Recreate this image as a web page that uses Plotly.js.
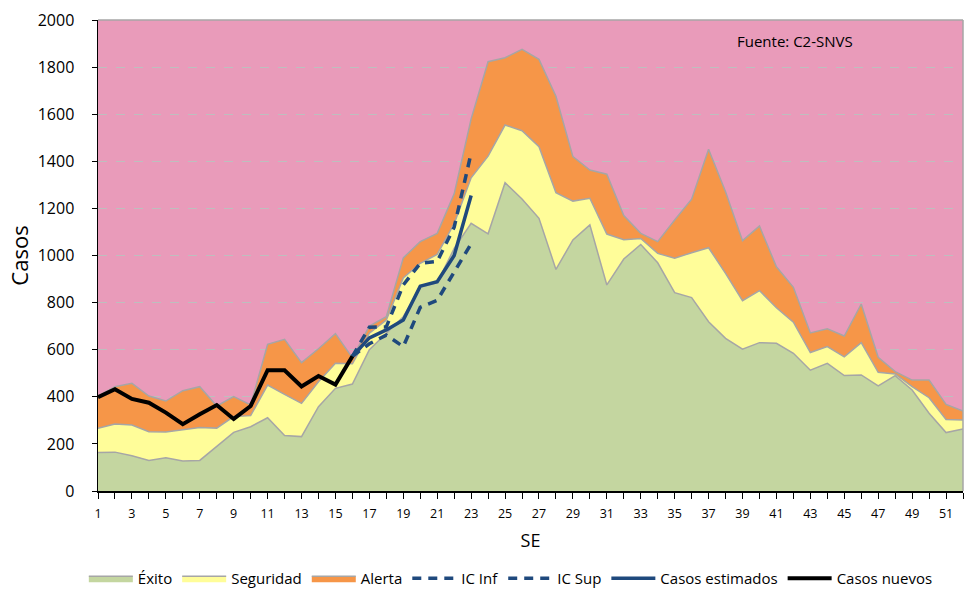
<!DOCTYPE html>
<html>
<head>
<meta charset="utf-8">
<script src="https://cdn.plot.ly/plotly-3.0.1.min.js"></script>
<style>html,body{margin:0;padding:0;background:#fff;}#chart{width:973px;height:595px;}</style>
</head>
<body>
<div id="chart"></div>
<script>
const semanas = Array.from({length: 52}, (_, i) => i + 1);

const exito = [163,165,150,130,141,127,130,188,249,273,311,236,231,358,436,454,600,670,740,865,885,1030,1137,1092,1309,1240,1158,941,1066,1130,875,985,1047,969,842,821,719,648,602,630,627,585,513,542,490,493,446,490,429,330,248,263];

const seguridad = [266,284,280,252,251,259,270,267,316,320,450,410,372,464,542,540,670,726,905,967,1005,1135,1330,1422,1554,1530,1462,1267,1231,1243,1091,1067,1072,1009,988,1012,1033,924,808,851,778,717,588,613,570,630,504,497,443,396,304,301];

const alerta = [403,443,457,403,382,426,443,361,401,365,623,644,545,604,668,565,700,740,990,1059,1094,1262,1580,1823,1840,1875,1833,1676,1420,1363,1345,1170,1094,1059,1151,1239,1451,1271,1063,1125,952,865,671,689,658,794,568,507,471,471,368,340];

const semanasNuevos = [1,2,3,4,5,6,7,8,9,10,11,12,13,14,15,16];
const casosNuevos = [398,432,391,375,333,284,326,365,306,361,513,513,444,488,452,572];

const semanasEst = [16,17,18,19,20,21,22,23];
const casosEstimados = [572,650,684,726,870,889,1000,1255];
const icInf = [572,625,662,613,780,810,930,1050];
const icSup = [572,695,697,875,967,975,1120,1435];

const xTickLabels = [1,3,5,7,9,11,13,15,17,19,21,23,25,27,29,31,33,35,37,39,41,43,45,47,49,51];
const yTickVals = [0,200,400,600,800,1000,1200,1400,1600,1800,2000];

const FONT = '"Open Sans", "DejaVu Sans", sans-serif';
const edge = {color: 'rgb(166,166,166)', width: 1.5};

const traces = [
  {x: semanas, y: exito, name: 'Éxito', type: 'scatter', mode: 'lines',
   fill: 'tozeroy', fillcolor: 'rgb(196,214,160)', line: edge},
  {x: semanas, y: seguridad, name: 'Seguridad', type: 'scatter', mode: 'lines',
   fill: 'tonexty', fillcolor: 'rgb(255,253,153)', line: edge},
  {x: semanas, y: alerta, name: 'Alerta', type: 'scatter', mode: 'lines',
   fill: 'tonexty', fillcolor: 'rgb(246,150,72)', line: edge},
  {x: semanasEst, y: icInf, name: 'IC Inf', type: 'scatter', mode: 'lines',
   line: {color: 'rgb(31,73,125)', width: 3.5, dash: '9px,7px'}},
  {x: semanasEst, y: icSup, name: 'IC Sup', type: 'scatter', mode: 'lines',
   line: {color: 'rgb(31,73,125)', width: 3.5, dash: '9px,7px'}},
  {x: semanasEst, y: casosEstimados, name: 'Casos estimados', type: 'scatter', mode: 'lines',
   line: {color: 'rgb(31,73,125)', width: 3.5}},
  {x: semanasNuevos, y: casosNuevos, name: 'Casos nuevos', type: 'scatter', mode: 'lines',
   line: {color: 'rgb(0,0,0)', width: 4}}
];

const layout = {
  width: 973, height: 595,
  margin: {l: 98, r: 10, t: 20, b: 104, pad: 0, autoexpand: false},
  paper_bgcolor: '#ffffff',
  plot_bgcolor: 'rgb(233,155,186)',
  font: {family: FONT, color: '#000'},
  showlegend: true,
  legend: {orientation: 'h', xref: 'container', yref: 'container', x: 0.525, xanchor: 'center',
           y: -0.006, yanchor: 'bottom', font: {size: 15, family: FONT}, traceorder: 'normal',
           itemwidth: 44, bgcolor: 'rgba(0,0,0,0)'},
  xaxis: {
    range: [1, 52], tickvals: xTickLabels, ticktext: xTickLabels.map(String),
    ticks: 'outside', ticklen: 6, tickcolor: '#000', tickwidth: 1,
    minor: {dtick: 1, tick0: 0, ticks: 'outside', ticklen: 6, tickcolor: '#000', tickwidth: 1, showgrid: false},
    showline: true, linecolor: '#000', linewidth: 1.5, showgrid: false, zeroline: false,
    tickfont: {size: 12.5, family: FONT}, ticklabelstandoff: 4, automargin: false,
    title: {text: 'SE', font: {size: 18, family: FONT}, standoff: 14}
  },
  yaxis: {
    range: [0, 2000], tickvals: yTickVals, ticks: 'outside', ticklen: 5, tickcolor: '#000',
    showline: true, linecolor: '#000', linewidth: 1.5, automargin: false,
    showgrid: true, gridcolor: 'rgb(190,190,190)', griddash: 'dash', gridwidth: 1, zeroline: false,
    tickfont: {size: 16, family: FONT}, ticklabelstandoff: 14,
    title: {text: 'Casos', font: {size: 22, family: FONT}, standoff: 3}
  },
  shapes: [
    {type: 'line', xref: 'paper', yref: 'paper', x0: 0, x1: 1, y0: 1, y1: 1,
     line: {color: 'rgb(166,166,166)', width: 1.5}},
    {type: 'line', xref: 'paper', yref: 'paper', x0: 1, x1: 1, y0: 0, y1: 1,
     line: {color: 'rgb(166,166,166)', width: 1.5}}
  ],
  annotations: [
    {text: 'Fuente: C2-SNVS', xref: 'paper', yref: 'paper', x: 0.736, y: 0.955,
     xanchor: 'left', yanchor: 'middle', showarrow: false, font: {size: 15, family: FONT}}
  ]
};

Plotly.newPlot('chart', traces, layout, {displayModeBar: false, staticPlot: true});
</script>
</body>
</html>
